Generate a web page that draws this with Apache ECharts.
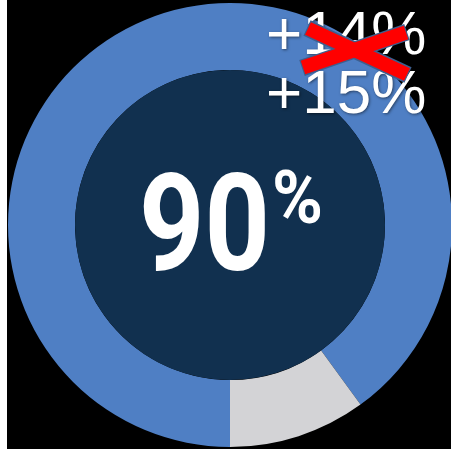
<!DOCTYPE html>
<html>
<head>
<meta charset="utf-8">
<script src="https://cdn.jsdelivr.net/npm/echarts@6/dist/echarts.min.js"></script>
<style>
  html, body { margin: 0; padding: 0; background: #ffffff; }
  #donut { position: absolute; left: 7px; top: 0; width: 444px; height: 449px; background: #000000; }
</style>
</head>
<body>
<div id="donut"></div>
<script>
// chart values
const segmentNames = ["Achieved", "Remaining"];
const segmentValues = [90, 10];
const segmentColors = ["#4f7fc4", "#d3d3d6"];
const centerValue = "90";
const centerUnit = "%";
const oldChange = "+14%";
const newChange = "+15%";

const cx = 223, cy = 225;

const chart = echarts.init(document.getElementById("donut"));
const shadow = {
  textShadowColor: "rgba(0,0,0,0.5)",
  textShadowBlur: 3,
  textShadowOffsetX: 1,
  textShadowOffsetY: 1,
};
const option = {
  backgroundColor: "#000000",
  animation: false,
  series: [
    {
      type: "pie",
      center: [cx, cy],
      radius: [155, 222],
      startAngle: 270, // start at the bottom
      clockwise: true,
      silent: true,
      z: 1,
      label: { show: false },
      labelLine: { show: false },
      itemStyle: { borderWidth: 0 },
      data: segmentNames.map((name, i) => ({
        name,
        value: segmentValues[i],
        itemStyle: { color: segmentColors[i] },
      })),
    },
    {
      // dark inner disc
      type: "pie",
      center: [cx, cy],
      radius: [0, 155],
      silent: true,
      z: 1,
      label: { show: false },
      labelLine: { show: false },
      data: [{ value: 1, itemStyle: { color: "#11304f" } }],
    },
  ],
  graphic: [
    {
      type: "text",
      z: 100,
      x: 132,
      y: 168,
      scaleX: 0.84,
      style: {
        text: centerValue,
        fill: "#ffffff",
        textAlign: "left",
        textVerticalAlign: "top",
        font: 'bold 136px Roboto, sans-serif',
      },
    },
    {
      type: "text",
      z: 100,
      x: 265,
      y: 167,
      scaleX: 0.92,
      style: {
        text: centerUnit,
        fill: "#ffffff",
        textAlign: "left",
        textVerticalAlign: "top",
        font: 'bold 75px Roboto, sans-serif',
      },
    },
    {
      type: "text",
      z: 100,
      left: 259,
      top: 6,
      style: Object.assign({
        text: oldChange,
        fill: "#ffffff",
        font: '62px "Liberation Sans", Arial, sans-serif',
      }, shadow),
    },
    {
      type: "text",
      z: 100,
      left: 259,
      top: 65,
      style: Object.assign({
        text: newChange,
        fill: "#ffffff",
        font: '62px "Liberation Sans", Arial, sans-serif',
      }, shadow),
    },
    // red cross over the old value
    { type: "line", z: 101, shape: { x1: 300, y1: 28, x2: 401, y2: 75 }, style: { stroke: "#3d5f8f", lineWidth: 17 } },
    { type: "line", z: 101, shape: { x1: 295, y1: 68, x2: 400, y2: 32 }, style: { stroke: "#3d5f8f", lineWidth: 17 } },
    { type: "line", z: 102, shape: { x1: 301, y1: 28.5, x2: 400, y2: 74.5 }, style: { stroke: "#ff0000", lineWidth: 14 } },
    { type: "line", z: 102, shape: { x1: 296, y1: 67.5, x2: 399, y2: 32.5 }, style: { stroke: "#ff0000", lineWidth: 14 } },
  ],
};
chart.setOption(option);
</script>
</body>
</html>
